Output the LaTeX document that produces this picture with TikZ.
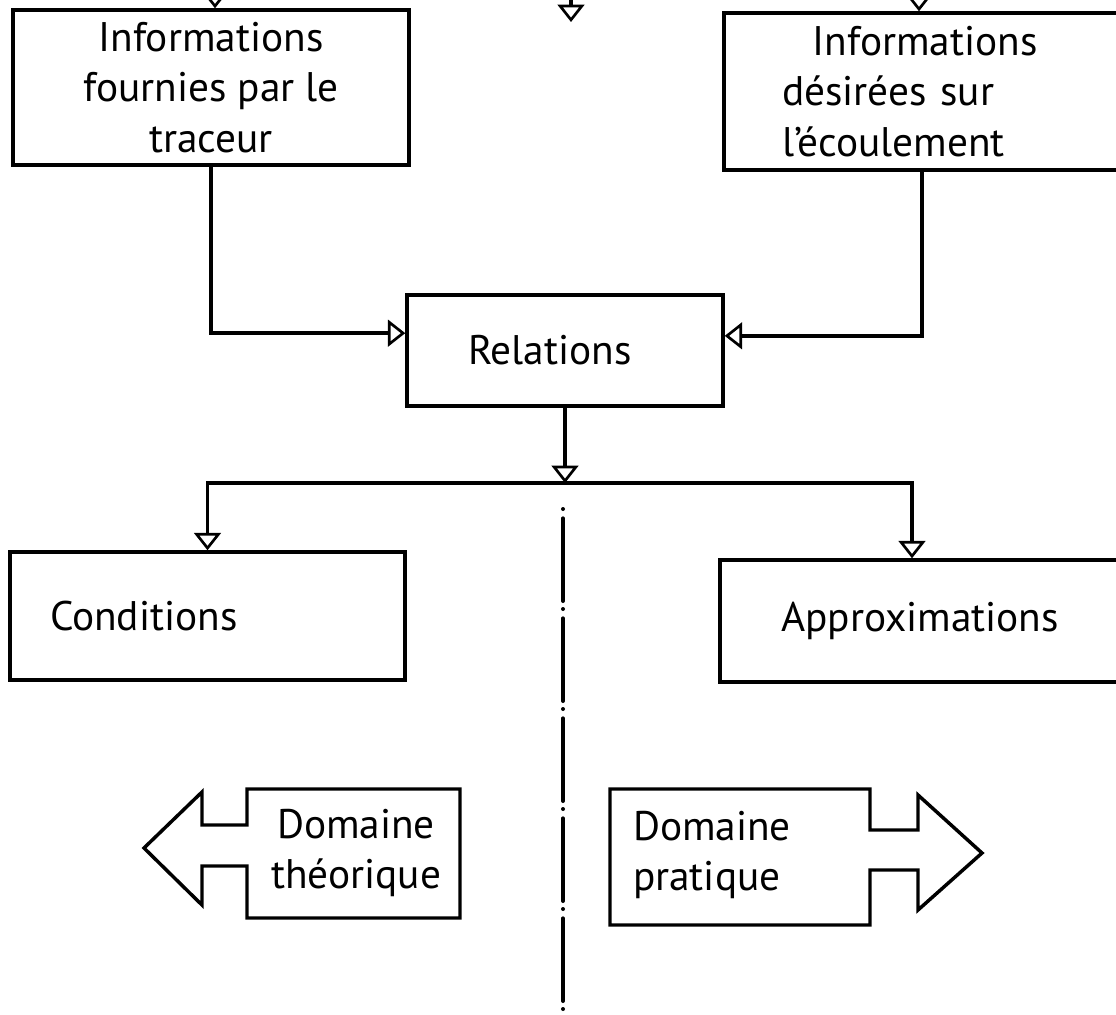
\documentclass[tikz,border=0pt]{standalone}
\usepackage{fontspec}
\setmainfont{PT Sans}
\usetikzlibrary{arrows.meta}

\begin{document}
\begin{tikzpicture}[x=0.75pt,y=0.75pt,yscale=-1,xscale=1,
  texte/.style={inner sep=0pt, font=\fontsize{31}{38}\selectfont},
  bloc/.style={texte, draw, line width=2.6pt, align=center},
  fleche/.style={line width=2.6pt, -{Triangle[open,width=20pt,length=13pt,line width=2pt]}},
  trait/.style={line width=2.6pt, line join=miter}]
\useasboundingbox (0,0) rectangle (1116,1014);

%Blocs
\node[bloc, minimum width=297pt, minimum height=116.25pt] (fournies) at (211,87.5) {Informations\\fournies par le\\traceur};
\node[bloc, text width=217.5pt, inner xsep=43.5pt, minimum height=117.75pt, align=left] (desirees) at (927,91.5) {\hspace*{23pt}Informations\\désirées sur\\l'écoulement};
\node[bloc, text width=145.5pt, inner xsep=45.75pt, minimum height=83.25pt, align=left] (relations) at (565,350.5) {Relations};
\node[bloc, text width=236.25pt, inner xsep=30pt, minimum height=96pt, align=left] (conditions) at (207.5,616) {Conditions};
\node[bloc, minimum width=300pt, minimum height=91.5pt] (approx) at (920,621) {Approximations};

%Points libres
\coordinate (entree1) at (215,-20);
\coordinate (entree2) at (571,-40);
\coordinate (bout2) at (571,22);
\coordinate (entree3) at (919,-20);
\coordinate (partage) at (565,483);

%Fleches
\draw[fleche] (entree1) -- (entree1 |- fournies.north);
\draw[fleche] (entree2) -- (bout2);
\draw[fleche] (entree3) -- (entree3 |- desirees.north);
\draw[fleche] (fournies.south) |- ([yshift=-13pt]relations.west);
\draw[fleche] ([xshift=-3.75pt]desirees.south) |- ([yshift=-11pt]relations.east);
\draw[fleche] (relations.south) -- (partage);
\draw[fleche] (partage) -| (conditions.north);
\draw[fleche] (partage) -| ([xshift=-6pt]approx.north);

%Separation
\draw[line width=3pt, line cap=round, dash pattern=on 0pt off 7pt on 62pt off 6pt] (563,509) -- (563,1020);

%Domaine theorique
\draw[trait] (247,789) -- (460,789) -- (460,918) -- (247,918) -- (247,866) -- (202,866) -- (202,905) -- (144,848) -- (202,792) -- (202,825) -- (247,825) -- cycle;
\node[texte, align=center] (theorique) at (356,853) {Domaine\\théorique};

%Domaine pratique
\draw[trait] (610,789) -- (870,789) -- (870,830) -- (918,830) -- (918,795) -- (982,853) -- (918,910) -- (918,870) -- (870,870) -- (870,925) -- (610,925) -- cycle;
\node[texte, align=left] (pratique) at (712,855) {Domaine\\pratique};

\end{tikzpicture}
\end{document}
